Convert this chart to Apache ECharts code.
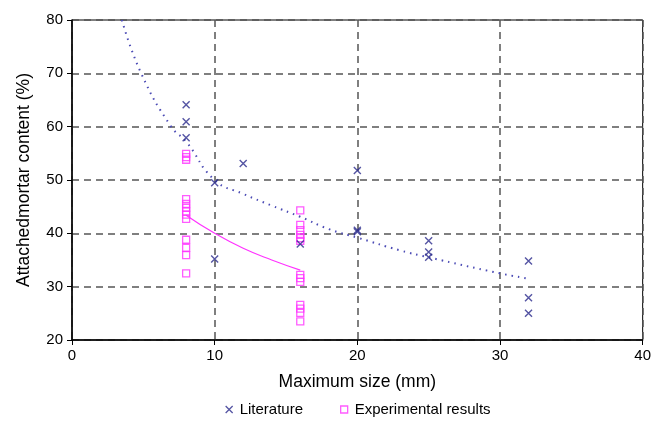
<!DOCTYPE html>
<html>
<head>
<meta charset="utf-8">
<script src="https://cdn.jsdelivr.net/npm/echarts@6/dist/echarts.min.js"></script>
<style>html,body{margin:0;padding:0;background:#fff}#c{width:654px;height:421px}</style>
</head>
<body>
<div id="c"></div>
<script>
// Literature points [max size (mm), attached mortar content (%)]
var literature = [
  [8, 64.1], [8, 60.9], [8, 57.9],
  [10, 49.5], [10, 35.2],
  [12, 53.1],
  [16, 38.0],
  [20, 51.8], [20, 40.6], [20, 40.3],
  [25, 38.6], [25, 36.5], [25, 35.5],
  [32, 34.8], [32, 27.9], [32, 25.0]
];
// Experimental results
var experimental = [
  [8, 54.9], [8, 54.3], [8, 53.8],
  [8, 46.4], [8, 45.5], [8, 44.8], [8, 44.1], [8, 43.5], [8, 42.7],
  [8, 38.8], [8, 37.3], [8, 35.9], [8, 32.5],
  [16, 44.3], [16, 41.6], [16, 40.6], [16, 39.7], [16, 39.1], [16, 38.6],
  [16, 32.2], [16, 31.6], [16, 30.9],
  [16, 26.6], [16, 25.9], [16, 25.1], [16, 23.5]
];
// Trend lines
var literatureTrend = [
  [3.5, 80], [4.85, 70], [6.95, 60], [8, 57.2], [10, 50], [12, 47.4], [14, 45.2],
  [16, 43.1], [18, 40.8], [20, 39.2], [23, 36.8], [25, 35.5], [30, 32.5], [32, 31.5]
];
var experimentalTrend = [
  [8, 43.4], [10, 40.0], [12, 37.2], [14, 35.0], [16, 33.1]
];
var xTicks = [0, 10, 20, 30, 40];
var yTicks = [20, 30, 40, 50, 60, 70, 80];

var crossPath = 'path://M0,0L10,10M10,0L0,10';
var navy = '#2b2b8c';
var magenta = '#ff33ff';
var font = 'Liberation Sans, Arial, sans-serif';

var chart = echarts.init(document.getElementById('c'), null, {renderer: 'canvas'});
chart.setOption({
  animation: false,
  backgroundColor: '#fff',
  grid: {left: 72, right: 11, top: 20, bottom: 81, show: true, borderColor: '#000', borderWidth: 1, backgroundColor: 'transparent'},
  xAxis: {
    type: 'value', min: xTicks[0], max: xTicks[xTicks.length - 1], interval: 10,
    name: 'Maximum size (mm)', nameLocation: 'middle', nameGap: 33,
    nameTextStyle: {fontFamily: font, fontSize: 17.5, color: '#000'},
    axisLine: {lineStyle: {color: '#000', width: 1.5}},
    axisTick: {show: true, inside: false, length: 5, lineStyle: {color: '#000'}},
    axisLabel: {fontFamily: font, fontSize: 15, color: '#000', margin: 8},
    splitLine: {show: true, lineStyle: {color: '#555', type: [7, 5], width: 1.5}}
  },
  yAxis: {
    type: 'value', min: yTicks[0], max: yTicks[yTicks.length - 1], interval: 10,
    name: 'Attachedmortar content (%)', nameLocation: 'middle', nameGap: 39,
    nameTextStyle: {fontFamily: font, fontSize: 17.5, color: '#000'},
    axisLine: {show: true, lineStyle: {color: '#000', width: 1.5}},
    axisTick: {show: true, inside: false, length: 5, lineStyle: {color: '#000'}},
    axisLabel: {fontFamily: font, fontSize: 15, color: '#000', margin: 9},
    splitLine: {show: true, lineStyle: {color: '#555', type: [7, 5], width: 1.5}}
  },
  legend: {
    top: 400, left: 225, itemGap: 37, itemWidth: 7, itemHeight: 7, padding: [2, 5, 2, 0],
    textStyle: {fontFamily: font, fontSize: 15, color: '#000', padding: [0, 0, 0, 2]},
    data: [
      {name: 'Literature', icon: crossPath, itemStyle: {color: 'transparent', borderColor: navy, borderWidth: 1.3}},
      {name: 'Experimental results', icon: 'rect', itemStyle: {color: '#fff', borderColor: magenta, borderWidth: 1.3}}
    ]
  },
  series: [
    {
      name: 'LiteratureTrend', type: 'line', data: literatureTrend, smooth: true, showSymbol: false,
      lineStyle: {color: '#4b4bb5', width: 2, type: [1.5, 5]}, z: 2, silent: true
    },
    {
      name: 'ExperimentalTrend', type: 'line', data: experimentalTrend, smooth: true, showSymbol: false,
      lineStyle: {color: magenta, width: 1.2}, z: 2, silent: true
    },
    {
      name: 'Literature', type: 'scatter', data: literature, symbol: crossPath, symbolSize: 7,
      itemStyle: {color: 'transparent', borderColor: navy, borderWidth: 1.4}, z: 4
    },
    {
      name: 'Experimental results', type: 'scatter', data: experimental, symbol: 'rect', symbolSize: 7,
      itemStyle: {color: 'rgba(255,255,255,0)', borderColor: magenta, borderWidth: 1.3}, z: 3
    }
  ]
});
</script>
</body>
</html>
